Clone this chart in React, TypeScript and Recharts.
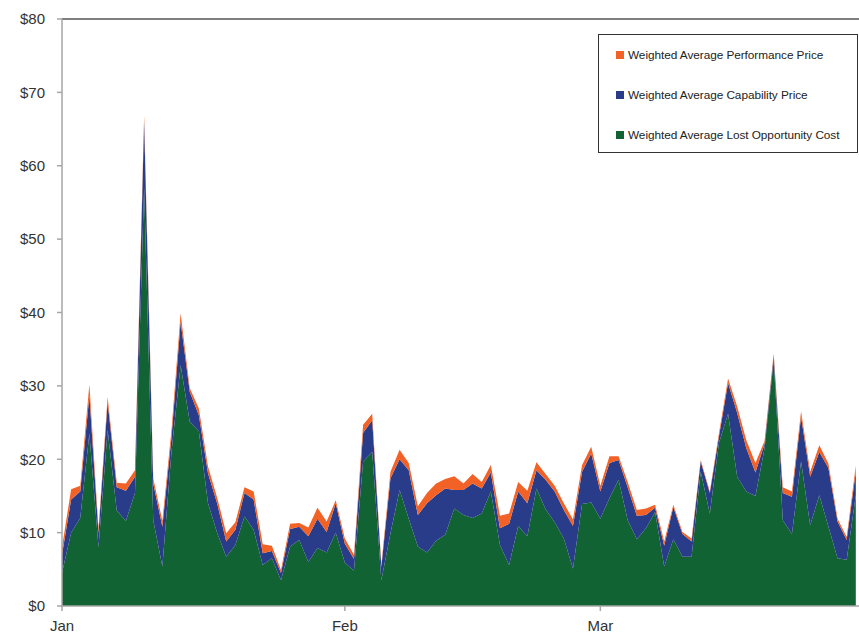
import React from 'react';
import { AreaChart, Area, XAxis, YAxis, Legend, ReferenceLine } from 'recharts';

// Month names and how many days of each are shown (data runs Jan 1 - Mar 29).
const MONTHS = ['Jan', 'Feb', 'Mar'];
const MONTH_DAYS = [31, 28, 29];

// $/MW-h, one value per day.
const LOST_OPPORTUNITY = [
  4.5, 10.0, 12.0, 23.5, 8.0, 24.0, 13.0, 11.6, 15.4, 57.0, 11.7, 5.4, 21.0, 32.8, 25.1, 23.8,
  14.0, 10.0, 6.7, 8.3, 12.2, 10.4, 5.6, 6.5, 3.5, 8.1, 9.0, 6.0, 7.9, 7.3, 10.0,
  5.9, 4.8, 19.7, 21.0, 3.5, 9.9, 15.8, 11.9, 8.1, 7.3, 8.9, 9.7, 13.3, 12.4, 12.0, 12.6,
  15.6, 8.3, 5.6, 10.9, 9.5, 16.0, 13.2, 11.4, 9.2, 5.1, 13.9, 14.1,
  11.9, 14.7, 17.2, 11.7, 9.1, 10.6, 12.8, 5.4, 9.1, 6.7, 6.7, 18.3, 12.6, 22.2, 26.2, 17.6,
  15.6, 15.0, 21.5, 33.5, 11.7, 9.8, 19.7, 11.0, 15.1, 10.8, 6.5, 6.3, 15.1,
];
const CAPABILITY = [
  2.5, 4.5, 3.6, 5.2, 2.0, 3.8, 3.2, 4.1, 2.2, 9.0, 5.0, 5.4, 2.0, 5.9, 4.1, 2.2,
  4.1, 4.0, 2.1, 2.1, 3.2, 4.1, 1.6, 1.0, 1.0, 2.4, 1.8, 3.5, 4.0, 2.8, 4.0,
  2.6, 1.6, 3.9, 4.3, 1.8, 7.5, 4.2, 6.6, 4.3, 6.7, 6.2, 6.3, 2.5, 3.4, 4.7, 3.4,
  2.6, 2.3, 5.6, 4.7, 4.5, 2.5, 4.0, 4.2, 3.9, 5.8, 4.4, 6.7,
  3.7, 4.8, 2.7, 4.5, 3.2, 1.8, 0.6, 2.8, 4.4, 3.1, 2.1, 1.4, 2.8, 0.9, 4.2, 8.7,
  5.9, 3.2, 0.6, 0.6, 3.7, 5.1, 6.1, 6.6, 5.9, 8.0, 5.0, 2.7, 3.2,
];
const PERFORMANCE = [
  1.0, 1.4, 0.8, 1.5, 0.5, 0.7, 0.6, 1.0, 0.9, 0.8, 0.7, 0.8, 1.0, 1.2, 0.5, 0.9,
  0.9, 0.8, 1.1, 1.0, 0.8, 1.1, 1.2, 0.7, 0.4, 0.7, 0.5, 1.2, 1.5, 1.4, 0.4,
  0.7, 0.6, 1.1, 0.9, 0.3, 0.9, 1.3, 1.0, 1.2, 1.4, 1.6, 1.3, 1.9, 0.9, 1.3, 0.9,
  1.0, 1.7, 1.4, 1.3, 1.7, 1.1, 0.8, 0.8, 0.9, 0.9, 0.9, 0.9,
  0.8, 0.9, 0.5, 0.7, 0.8, 0.9, 0.4, 0.6, 0.3, 0.3, 0.4, 0.2, 0.2, 0.4, 0.6, 0.9,
  1.1, 1.3, 0.4, 0.3, 0.8, 0.7, 0.7, 0.7, 0.9, 0.6, 0.4, 0.4, 0.8,
];
const Y_TICKS = [0, 10, 20, 30, 40, 50, 60, 70, 80];

const SERIES = [
  { key: 'performance', name: 'Weighted Average Performance Price', color: '#f26125' },
  { key: 'capability', name: 'Weighted Average Capability Price', color: '#283c8a' },
  { key: 'lostOpportunity', name: 'Weighted Average Lost Opportunity Cost', color: '#126333' },
];

const FONT = '"Liberation Sans", Arial, sans-serif';

// month start positions on the day axis
const monthStarts = MONTH_DAYS.map((_, i) => MONTH_DAYS.slice(0, i).reduce((a, b) => a + b, 0));

const rows = LOST_OPPORTUNITY.map((v, i) => ({
  day: i,
  lostOpportunity: v,
  capability: CAPABILITY[i],
  performance: PERFORMANCE[i],
}));

function LegendBox() {
  return (
    <div
      style={{
        boxSizing: 'border-box',
        width: 260,
        height: 119,
        border: '1px solid #333',
        background: '#fff',
        fontFamily: FONT,
        fontSize: 11.8,
        letterSpacing: -0.05,
        color: '#222',
      }}
    >
      {SERIES.map((s) => (
        <div key={s.key} style={{ height: 40, display: 'flex', alignItems: 'center', paddingLeft: 17 }}>
          <span style={{ width: 8, height: 8, background: s.color, marginRight: 4, flex: 'none' }} />
          <span style={{ whiteSpace: 'nowrap' }}>{s.name}</span>
        </div>
      ))}
    </div>
  );
}

export default function App() {
  return (
    <div style={{ width: 859, height: 634, overflow: 'hidden', position: 'relative' }}>
      <style>{'body{margin:0;overflow:hidden}'}</style>
      <AreaChart width={859} height={640} data={rows} margin={{ top: 19, right: 0, bottom: 0, left: 0 }}>
        <XAxis
          dataKey="day"
          type="number"
          domain={[0, 87.35]}
          allowDataOverflow
          ticks={monthStarts}
          tickFormatter={(d: number) => MONTHS[monthStarts.indexOf(d)] ?? ''}
          height={34}
          tickSize={5}
          tickMargin={9}
          stroke="#a6a6a6"
          strokeWidth={1.5}
          tick={{ fill: '#333', fontSize: 15, fontFamily: FONT }}
        />
        <YAxis
          domain={[0, 80]}
          ticks={Y_TICKS}
          width={62}
          tickSize={5}
          tickMargin={12}
          stroke="#a6a6a6"
          strokeWidth={1.5}
          tick={{ fill: '#333', fontSize: 15, fontFamily: FONT }}
          tickFormatter={(v: number) => `$${v}`}
        />
        <ReferenceLine y={80} stroke="#555" strokeWidth={1.3} />
        <Legend
          layout="horizontal"
          verticalAlign="middle"
          align="center"
          content={() => <LegendBox />}
          wrapperStyle={{ left: 598, top: 34, width: 260, height: 119 }}
        />
        {[...SERIES].reverse().map((s) => (
          <Area
            key={s.key}
            type="linear"
            dataKey={s.key}
            name={s.name}
            stackId="price"
            fill={s.color}
            fillOpacity={1}
            stroke="none"
            isAnimationActive={false}
          />
        ))}
      </AreaChart>
    </div>
  );
}
